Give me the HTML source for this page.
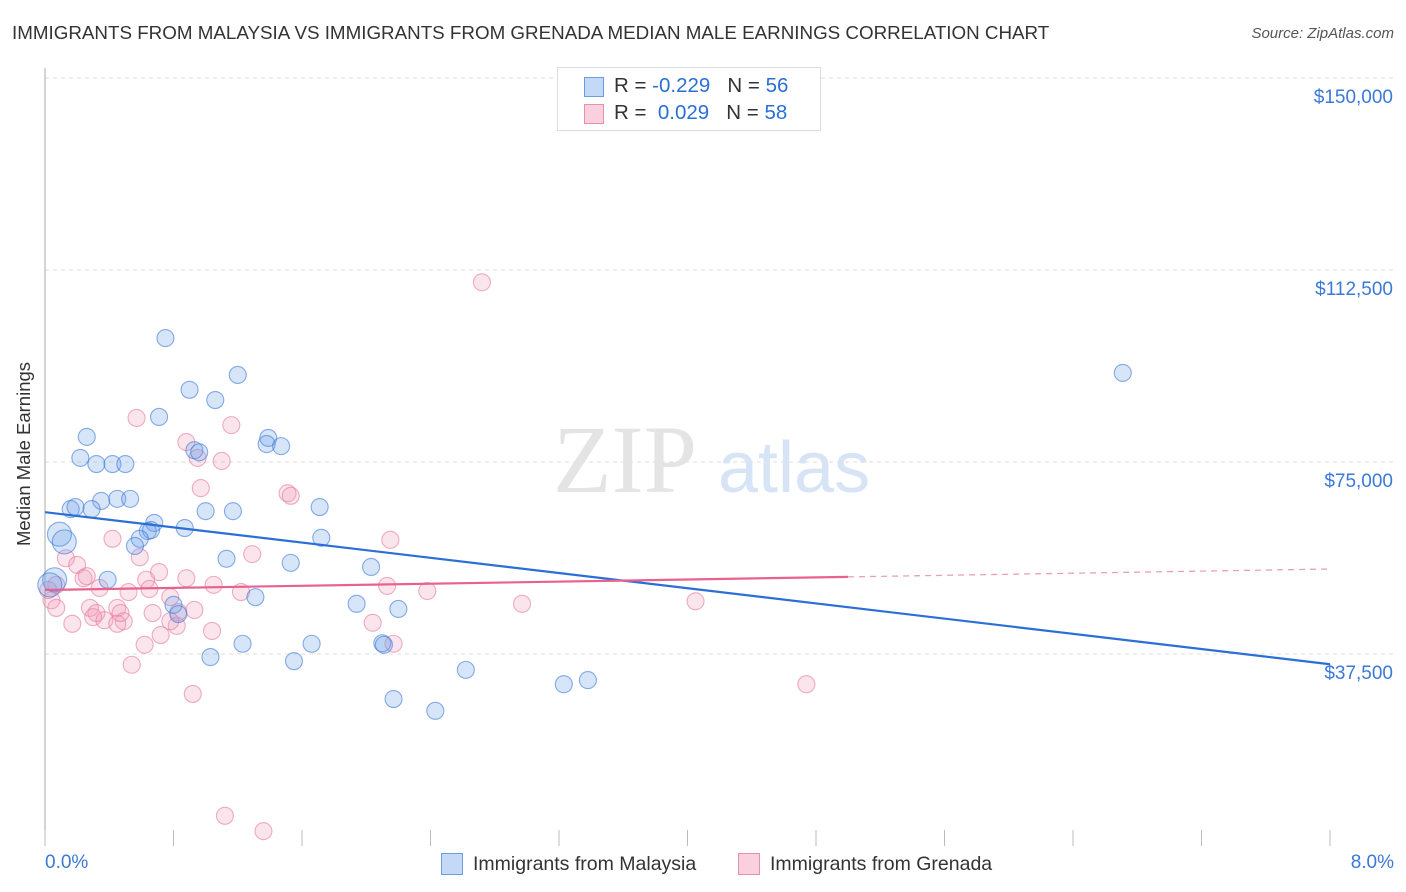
<!DOCTYPE html>
<html><head><meta charset="utf-8"><style>
body{margin:0;background:#fff;font-family:"Liberation Sans",sans-serif;}
#wrap{position:relative;width:1406px;height:892px;overflow:hidden;}
.t{position:absolute;white-space:nowrap;}
</style></head><body><div id="wrap">
<div class="t" style="left:12px;top:22px;font-size:18.8px;color:#333;">IMMIGRANTS FROM MALAYSIA VS IMMIGRANTS FROM GRENADA MEDIAN MALE EARNINGS CORRELATION CHART</div>
<div class="t" style="right:12px;top:25px;font-size:15px;color:#555;font-style:italic;">Source: ZipAtlas.com</div>
<svg id="svg" width="1406" height="892" style="position:absolute;left:0;top:0"></svg>
</div>
<script>
const blueX=[0.75,1.20,0.90,1.06,0.71,0.26,1.39,1.38,1.47,0.93,0.96,0.22,0.32,0.42,0.50,0.35,0.45,0.53,0.16,0.19,0.29,1.00,1.17,1.71,0.68,0.87,0.64,0.66,0.09,0.12,0.59,0.56,1.72,1.13,1.53,2.03,0.39,0.06,0.03,1.31,0.80,0.83,1.94,2.20,1.03,1.23,1.66,1.55,2.10,2.11,2.62,2.17,2.43,3.23,3.38,6.71];
const blueY=[99.2,92.0,89.1,87.1,83.8,79.9,79.7,78.5,78.1,77.3,76.9,75.8,74.6,74.6,74.6,67.4,67.8,67.8,65.8,66.2,65.8,65.4,65.4,66.2,63.1,62.1,61.5,61.7,60.9,59.4,60.0,58.6,60.2,56.1,55.3,54.5,52.0,52.0,51.0,48.6,47.1,45.3,47.3,46.3,36.9,39.5,39.5,36.1,39.6,39.3,34.4,28.7,26.4,31.6,32.4,92.4];
const pinkX=[2.72,0.57,1.16,0.88,1.10,0.97,1.51,1.53,0.42,2.15,1.29,0.59,0.13,0.20,0.71,0.88,0.24,0.26,0.63,1.05,2.13,0.07,0.34,0.65,1.22,2.38,0.52,0.78,0.04,2.97,4.05,0.07,0.45,0.28,0.32,0.93,0.83,0.67,0.30,0.37,0.49,0.45,0.82,2.04,0.17,1.04,0.72,2.17,0.62,0.54,0.92,4.74,1.12,1.36,0.02,0.78,0.95,0.47];
const pinkY=[110.1,83.6,82.2,78.9,75.2,69.9,68.9,68.4,60.0,59.8,57.0,56.4,56.2,54.9,53.5,52.3,52.3,52.7,52.0,51.0,50.8,51.0,50.4,50.2,49.6,49.8,49.6,48.6,48.0,47.3,47.8,46.5,46.5,46.5,45.5,46.1,45.7,45.5,44.7,44.1,43.9,43.4,43.0,43.6,43.4,42.0,41.2,39.5,39.3,35.4,29.7,31.6,5.9,2.9,50.0,43.9,75.8,45.5];
const blueTrend=[65.2,35.5];
const pinkTrend=[50.0,54.1];
const pinkSolidEnd=5.0;
const yTicks=[150,112.5,75,37.5];
const yTickLabels=["$150,000","$112,500","$75,000","$37,500"];
const xTicks=[0,0.8,1.6,2.4,3.2,4.0,4.8,5.6,6.4,7.2,8.0];

const svg=document.getElementById('svg');const NS='http://www.w3.org/2000/svg';
const X=v=>45+v/8*1285, Y=v=>846-v/37.5*192;
function mk(tag,attrs){const e=document.createElementNS(NS,tag);for(const k in attrs)e.setAttribute(k,attrs[k]);svg.appendChild(e);return e;}
yTicks.forEach((t,i)=>{
 const g=mk('line',{x1:45,x2:1395,y1:Y(t),y2:Y(t),stroke:'#ddd','stroke-dasharray':'4,4'});
 
 
 const l=mk('text',{x:1393,y:Y(t)+25,'text-anchor':'end','font-size':19,fill:'#3b78d8','font-family':'Liberation Sans'});
 l.textContent=yTickLabels[i];
 
 
});
const ax=mk('line',{x1:45,x2:45,y1:68,y2:846,stroke:'#aaa'});


xTicks.forEach(t=>{const e=mk('line',{x1:X(t),x2:X(t),y1:830,y2:846,stroke:'#bbb'});
 
 });
const w1=mk('text',{x:553,y:492,'font-size':96,fill:'#e4e4e4','font-family':'Liberation Serif'});w1.textContent='ZIP';


const w2=mk('text',{x:718,y:492,'font-size':72,fill:'#d6e4f5','font-family':'Liberation Sans'});w2.textContent='atlas';


function pts(xs,ys,fill,stroke,name,bigOk){xs.forEach((x,i)=>{const big=bigOk&&(x<0.13&&ys[i]>50&&ys[i]<62);
 const c=mk('circle',{cx:X(x),cy:Y(ys[i]),r:big?12:8.5,fill:fill,stroke:stroke,'stroke-width':1.1});
 
 });}
pts(pinkX,pinkY,'rgba(240,150,180,0.25)','rgba(230,120,160,0.6)','grenada-point',false);
pts(blueX,blueY,'rgba(110,160,230,0.28)','rgba(60,120,215,0.6)','malaysia-point',true);
const bt=mk('line',{x1:X(0),y1:Y(blueTrend[0]),x2:X(8),y2:Y(blueTrend[1]),stroke:'#2b6fd6','stroke-width':2.2});


const pm=pinkTrend[0]+(pinkTrend[1]-pinkTrend[0])*pinkSolidEnd/8;
const pt=mk('line',{x1:X(0),y1:Y(pinkTrend[0]),x2:X(pinkSolidEnd),y2:Y(pm),stroke:'#e8628f','stroke-width':2.2});


const pd=mk('line',{x1:X(pinkSolidEnd),y1:Y(pm),x2:X(8),y2:Y(pinkTrend[1]),stroke:'#e8a0b8','stroke-width':1.3,'stroke-dasharray':'6,5'});


</script>
<div style="position:absolute;left:557px;top:67px;width:262px;height:62px;border:1px solid #ddd;background:#fff;font-size:20.5px;color:#333;">
 <div style="position:absolute;left:26px;top:9px;width:18px;height:18px;background:#c4d9f5;border:1px solid #6b9be0;"></div>
 <div class="t" style="left:56px;top:6px;">R = <span style="color:#2b6fd6">-0.229</span>&nbsp;&nbsp;&nbsp;N = <span style="color:#2b6fd6">56</span></div>
 <div style="position:absolute;left:26px;top:36px;width:18px;height:18px;background:#fbd0de;border:1px solid #e890ab;"></div>
 <div class="t" style="left:56px;top:33px;">R = &nbsp;<span style="color:#2b6fd6">0.029</span>&nbsp;&nbsp;&nbsp;N = <span style="color:#2b6fd6">58</span></div>
</div>
<div class="t" style="left:-68px;top:443px;font-size:18.5px;color:#333;transform:rotate(-90deg);">Median Male Earnings</div>
<div class="t" style="left:45px;top:852px;font-size:19px;color:#3b78d8;">0.0%</div>
<div class="t" style="right:12px;top:852px;font-size:19px;color:#3b78d8;">8.0%</div>
<div style="position:absolute;left:441px;top:853px;width:20px;height:20px;background:#c4d9f5;border:1px solid #6b9be0;"></div>
<div class="t" style="left:473px;top:853px;font-size:19.5px;color:#333;">Immigrants from Malaysia</div>
<div style="position:absolute;left:738px;top:853px;width:20px;height:20px;background:#fbd0de;border:1px solid #e890ab;"></div>
<div class="t" style="left:770px;top:853px;font-size:19.5px;color:#333;">Immigrants from Grenada</div>
</body></html>
